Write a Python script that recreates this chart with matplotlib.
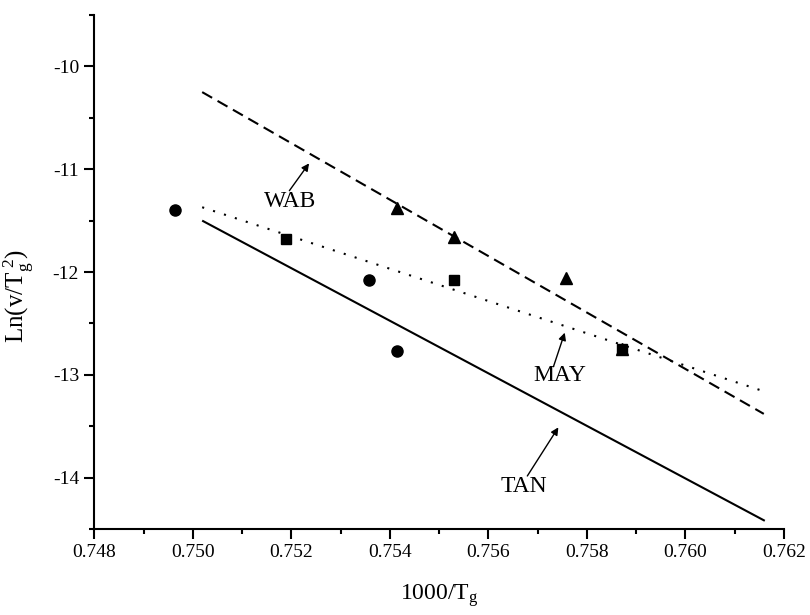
import matplotlib
matplotlib.use("Agg")
import matplotlib.pyplot as plt
from matplotlib.ticker import MultipleLocator, FixedLocator, FixedFormatter

plt.rcParams['font.family'] = ['Liberation Serif', 'DejaVu Serif']
plt.rcParams['mathtext.fontset'] = 'custom'
plt.rcParams['mathtext.rm'] = 'Liberation Serif'
plt.rcParams['mathtext.it'] = 'Liberation Serif'
plt.rcParams['axes.unicode_minus'] = False

# ---- data ----
tan_x = [0.74964, 0.75358, 0.75414]
tan_y = [-11.40, -12.08, -12.77]
may_x = [0.75189, 0.75530, 0.75872]
may_y = [-11.68, -12.08, -12.75]
wab_x = [0.75414, 0.75530, 0.75757, 0.75872]
wab_y = [-11.38, -11.66, -12.06, -12.75]

tan_fit_x = [0.75019, 0.76161]
tan_fit_y = [-11.50, -14.42]
may_fit_x = [0.75019, 0.76159]
may_fit_y = [-11.37, -13.16]
wab_fit_x = [0.75019, 0.76159]
wab_fit_y = [-10.25, -13.38]

xticks = [0.748, 0.750, 0.752, 0.754, 0.756, 0.758, 0.760, 0.762]
xtick_labels = ['0.748', '0.750', '0.752', '0.754', '0.756', '0.758', '0.760', '0.762']
yticks = [-14, -13, -12, -11, -10]
ytick_labels = ['-14', '-13', '-12', '-11', '-10']

labels = ['WAB', 'MAY', 'TAN']
label_pos = [(0.75197, -11.316), (0.75745, -13.002), (0.75672, -14.088)]
arrow_tail = [(0.75196, -11.209), (0.75732, -12.921), (0.75679, -13.984)]
arrow_head = [(0.75236, -10.943), (0.75755, -12.590), (0.75742, -13.511)]

# ---- figure ----
fig = plt.figure(figsize=(8.1, 6.15), dpi=100)
ax = fig.add_axes([0.1164, 0.1398, 0.8515, 0.8358])

ax.plot(tan_fit_x, tan_fit_y, color='black', lw=1.5, solid_capstyle='butt')
ax.plot(may_fit_x, may_fit_y, color='black', lw=1.5, dashes=(1, 4.5))
ax.plot(wab_fit_x, wab_fit_y, color='black', lw=1.5, dashes=(5.5, 3))

ax.plot(tan_x, tan_y, linestyle='none', marker='o', ms=8, color='black')
ax.plot(may_x, may_y, linestyle='none', marker='s', ms=6.5, color='black')
ax.plot(wab_x, wab_y, linestyle='none', marker='^', ms=9, color='black')

for lab, pos, tail, head in zip(labels, label_pos, arrow_tail, arrow_head):
    ax.text(pos[0], pos[1], lab, ha='center', va='center', fontsize=17)
    ax.annotate('', xy=head, xytext=tail,
                arrowprops=dict(arrowstyle='-|>', color='black', lw=1.0,
                                mutation_scale=11, shrinkA=0, shrinkB=0))

ax.set_xlim(0.748, 0.762)
ax.set_ylim(-14.5, -9.5)

ax.xaxis.set_major_locator(FixedLocator(xticks))
ax.xaxis.set_major_formatter(FixedFormatter(xtick_labels))
ax.xaxis.set_minor_locator(MultipleLocator(0.001))
ax.yaxis.set_major_locator(FixedLocator(yticks))
ax.yaxis.set_major_formatter(FixedFormatter(ytick_labels))
ax.yaxis.set_minor_locator(MultipleLocator(0.5))

for s in ['top', 'right']:
    ax.spines[s].set_visible(False)
for s in ['left', 'bottom']:
    ax.spines[s].set_linewidth(1.5)

ax.tick_params(axis='both', which='major', direction='out', length=7, width=1.5,
               labelsize=14, pad=4)
ax.tick_params(axis='both', which='minor', direction='out', length=3.5, width=1.5)

ax.set_xlabel(r'1000/T$_\mathregular{g}$', fontsize=17, labelpad=15)
ax.set_ylabel(r'Ln(v/T$_\mathregular{g}^{\ \mathregular{2}}$)', fontsize=18)
ax.yaxis.set_label_coords(-0.085, 0.453)

fig.savefig('out.png', dpi=100)
